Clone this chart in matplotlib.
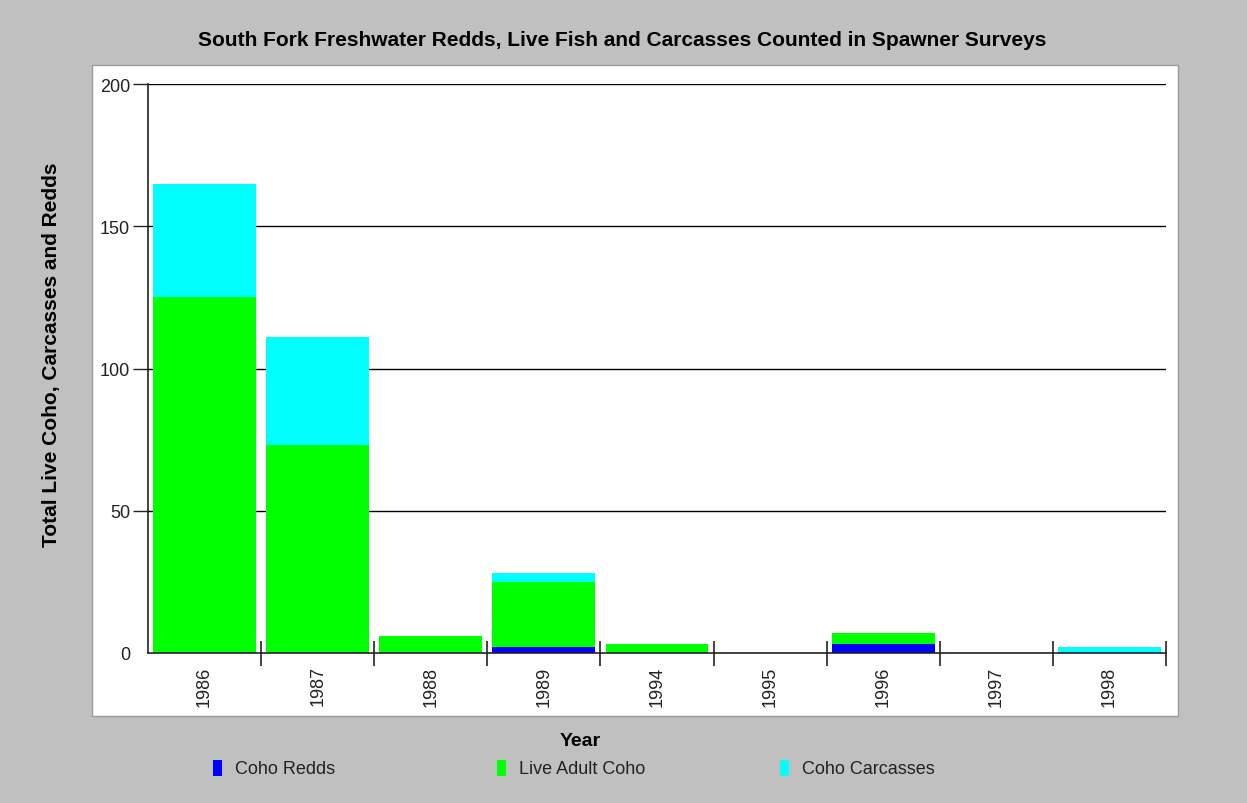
import matplotlib
matplotlib.use("Agg")
import matplotlib.pyplot as plt
from matplotlib.patches import Rectangle

# --- data ---
years = ["1986", "1987", "1988", "1989", "1994", "1995", "1996", "1997", "1998"]
coho_redds = [0, 0, 0, 2, 0, 0, 3, 0, 0]
live_adult_coho = [125, 73, 6, 23, 3, 0, 4, 0, 0]
coho_carcasses = [40, 38, 0, 3, 0, 0, 0, 0, 2]

series_names = ["Coho Redds", "Live Adult Coho", "Coho Carcasses"]
series_colors = ["#0000ff", "#00ff00", "#00ffff"]

W, H = 1247, 804
FONT = "Liberation Sans"
plt.rcParams['font.family'] = [FONT, 'DejaVu Sans']

fig = plt.figure(figsize=(W / 100, H / 100), dpi=100, facecolor="#c0c0c0")

# white plot panel (behind the axes)
panel = Rectangle((92 / W, 1 - 717 / H), (1178 - 92) / W, (717 - 66) / H,
                  transform=fig.transFigure, facecolor="white",
                  edgecolor="#9a9a9a", linewidth=1, zorder=-5)
fig.add_artist(panel)

ax = fig.add_axes([148 / W, 1 - 654 / H, (1166 - 148) / W, (654 - 85) / H])
ax.set_zorder(2)
ax.set_facecolor("none")

x = list(range(len(years)))
bottom = [0] * len(years)
for vals, color in zip([coho_redds, live_adult_coho, coho_carcasses], series_colors):
    ax.bar(x, vals, width=0.91, bottom=bottom, color=color, linewidth=0, zorder=2)
    bottom = [b + v for b, v in zip(bottom, vals)]

ax.set_xlim(-0.5, len(years) - 0.5)
ax.set_ylim(0, 200)

# y axis
ax.set_yticks([0, 50, 100, 150, 200])
ax.set_yticklabels(["0", "50", "100", "150", "200"], fontsize=13, color="#222222")
ax.tick_params(axis="y", direction="out", length=11, width=1, pad=2, color="#222222")
ax.yaxis.get_major_ticks()[0].tick1line.set_visible(False)
for yv in [50, 100, 150, 200]:
    ax.axhline(yv, color="black", linewidth=1, zorder=1)

# x axis: boundary ticks (major), labels at centres (minor)
ax.set_xticks([i + 0.5 for i in range(len(years))])
ax.set_xticklabels([])
ax.tick_params(axis="x", which="major", direction="inout", length=18, width=1.2, color="#222222")
ax.set_xticks(x, minor=True)
ax.set_xticklabels(years, minor=True, rotation=90, fontsize=13, color="#222222", va="top")
ax.tick_params(axis="x", which="minor", length=0, pad=9)

for side in ["top", "right"]:
    ax.spines[side].set_visible(False)
for side in ["left", "bottom"]:
    ax.spines[side].set_color("#222222")
    ax.spines[side].set_linewidth(1.2)

# titles
fig.text(622 / W, 1 - 40 / H, "South Fork Freshwater Redds, Live Fish and Carcasses Counted in Spawner Surveys",
         ha="center", va="center", fontsize=15, fontweight="bold")
fig.text(52 / W, 1 - 355 / H, "Total Live Coho, Carcasses and Redds", rotation=90,
         ha="center", va="center", fontsize=15, fontweight="bold")
fig.text(580 / W, 1 - 742 / H, "Year", ha="center", va="center", fontsize=14, fontweight="bold")

# legend
legend_x = [213, 497, 780]
for lx, name, color in zip(legend_x, series_names, series_colors):
    fig.add_artist(Rectangle((lx / W, 1 - 777 / H), 9 / W, 16 / H,
                             transform=fig.transFigure, facecolor=color, edgecolor="none"))
    fig.text((lx + 22) / W, 1 - 770 / H, name, ha="left", va="center", fontsize=13, color="#222222")

fig.savefig("out.png", dpi=100, facecolor=fig.get_facecolor())
